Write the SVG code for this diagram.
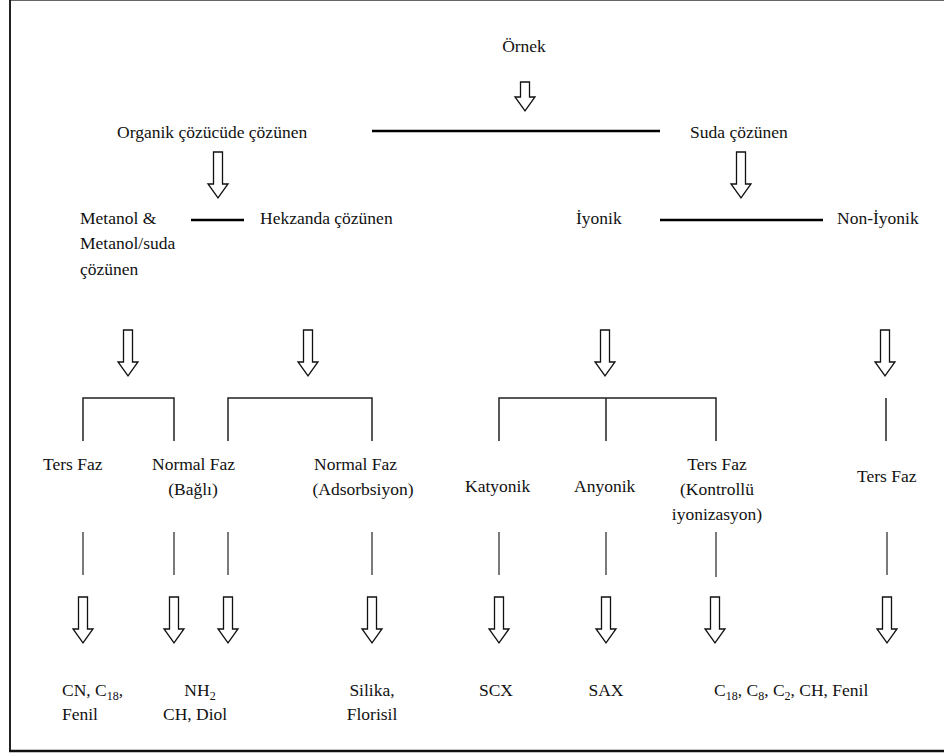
<svg xmlns="http://www.w3.org/2000/svg" width="944" height="755" viewBox="0 0 944 755">
<style>
text{font-family:"Liberation Serif","Times New Roman",serif;font-size:17.5px;fill:#111}
.m{text-anchor:middle}
.sub{font-size:12px}
.thick{stroke:#000;stroke-width:2.5;fill:none}
.thin{stroke:#222;stroke-width:1.2;fill:none}
.br{stroke:#222;stroke-width:1.5;fill:none}
.arr{fill:#fff;stroke:#111;stroke-width:1.3;stroke-linejoin:miter}
</style>
<defs>
<path id="a46" class="arr" d="M-4.5 0H4.5V32H10L0 46L-10 32H-4.5Z"/>
<path id="a30" class="arr" d="M-4.5 0H4.5V15H10L0 29L-10 15H-4.5Z"/>
</defs>
<rect x="0" y="0" width="944" height="755" fill="#fff"/>
<g id="frame">
<line x1="10" y1="0.5" x2="944" y2="0.5" stroke="#666" stroke-width="1"/>
<line x1="10" y1="0" x2="10" y2="752" stroke="#222" stroke-width="2"/>
<line x1="9" y1="751" x2="944" y2="751" stroke="#111" stroke-width="2.5"/>
</g>
<g id="connectors">
<use href="#a30" x="525" y="82"/>
<line class="thick" x1="372" y1="131" x2="660" y2="131"/>
<use href="#a46" x="218" y="152"/>
<use href="#a46" x="741" y="152"/>
<line class="thick" x1="191" y1="220" x2="244" y2="220"/>
<line class="thick" x1="660" y1="220" x2="823" y2="220"/>
<use href="#a46" x="128" y="330"/>
<use href="#a46" x="308" y="330"/>
<use href="#a46" x="605" y="330"/>
<use href="#a46" x="885" y="330"/>
<path class="br" d="M83 441V398H174V441"/>
<path class="br" d="M228 441V398H372V441"/>
<path class="br" d="M499 441V398H716V441M606 398V441"/>
<line class="br" x1="886" y1="398" x2="886" y2="441"/>
<g class="thin">
<line x1="83" y1="532" x2="83" y2="575"/>
<line x1="174" y1="532" x2="174" y2="575"/>
<line x1="228" y1="532" x2="228" y2="575"/>
<line x1="372" y1="532" x2="372" y2="575"/>
<line x1="499" y1="532" x2="499" y2="575"/>
<line x1="606" y1="532" x2="606" y2="575"/>
<line x1="716" y1="532" x2="716" y2="577"/>
<line x1="887" y1="532" x2="887" y2="575"/>
</g>
<use href="#a46" x="83" y="597"/>
<use href="#a46" x="174" y="597"/>
<use href="#a46" x="228" y="597"/>
<use href="#a46" x="372" y="597"/>
<use href="#a46" x="499" y="597"/>
<use href="#a46" x="606" y="597"/>
<use href="#a46" x="715" y="597"/>
<use href="#a46" x="887" y="597"/>
</g>
<g id="ornek"><text class="m" x="524" y="52">Örnek</text></g>
<g id="organik"><text x="117" y="138">Organik çözücüde çözünen</text></g>
<g id="suda"><text x="690" y="138">Suda çözünen</text></g>
<g id="metanol"><text x="80" y="224">Metanol &amp;</text><text x="80" y="249">Metanol/suda</text><text x="80" y="275">çözünen</text></g>
<g id="hekzan"><text x="260" y="224">Hekzanda çözünen</text></g>
<g id="iyonik"><text x="576" y="224">İyonik</text></g>
<g id="noniyonik"><text x="837" y="224">Non-İyonik</text></g>
<g id="ters1"><text x="43" y="470">Ters Faz</text></g>
<g id="normal1"><text x="152" y="470">Normal Faz</text><text class="m" x="193" y="495">(Bağlı)</text></g>
<g id="normal2"><text x="314" y="470">Normal Faz</text><text class="m" x="363" y="495">(Adsorbsiyon)</text></g>
<g id="katyonik"><text x="465" y="492">Katyonik</text></g>
<g id="anyonik"><text x="574" y="492">Anyonik</text></g>
<g id="ters2"><text class="m" x="717" y="470">Ters Faz</text><text class="m" x="717" y="495">(Kontrollü</text><text class="m" x="717" y="520">iyonizasyon)</text></g>
<g id="ters3"><text x="857" y="482">Ters Faz</text></g>
<g id="r1"><text x="62" y="696">CN, C<tspan class="sub" dy="4">18</tspan><tspan dy="-4">,</tspan></text><text x="62" y="720">Fenil</text></g>
<g id="r2"><text class="m" x="200" y="696">NH<tspan class="sub" dy="4">2</tspan></text><text x="163" y="720">CH, Diol</text></g>
<g id="r3"><text class="m" x="372" y="696">Silika,</text><text class="m" x="372" y="720">Florisil</text></g>
<g id="r4"><text class="m" x="496" y="696">SCX</text></g>
<g id="r5"><text class="m" x="606" y="696">SAX</text></g>
<g id="r6"><text x="714" y="696">C<tspan class="sub" dy="4">18</tspan><tspan dy="-4">, C</tspan><tspan class="sub" dy="4">8</tspan><tspan dy="-4">, C</tspan><tspan class="sub" dy="4">2</tspan><tspan dy="-4">, CH, Fenil</tspan></text></g>
</svg>
